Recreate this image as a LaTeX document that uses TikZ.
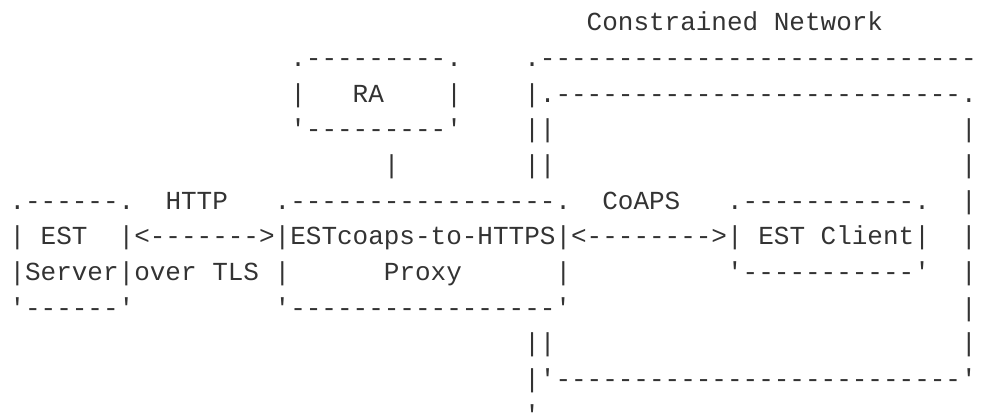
\documentclass[tikz,border=0pt]{standalone}
\usepackage{fontspec}
\setmonofont{Liberation Mono}
\usepackage{xcolor}
\usepackage{tikz}
\definecolor{asciigray}{HTML}{333333}

\begin{document}
\begin{tikzpicture}[x=11.7pt, y=-26.75pt,
		ascii/.style={anchor=base west, inner sep=0pt, outer sep=0pt, text=asciigray,
			font=\ttfamily\fontsize{19.5pt}{26pt}\selectfont}]
	\useasboundingbox (-0.609,-0.869) rectangle (62.276,10.793);

	\node[ascii] (net-label) at (37,0) {Constrained Network};

	\node[ascii] (ra-top) at (18,1) {.---------.};
	\node[ascii] (ra-left) at (18,2) {|};
	\node[ascii] (ra) at (22,2) {RA};
	\node[ascii] (ra-right) at (28,2) {|};
	\node[ascii] (ra-bot) at (18,3) {'---------'};
	\node[ascii] (ra-link) at (24,4) {|};

	\node[ascii] (net-top) at (33,1) {.----------------------------};
	\node[ascii] (net-l2) at (33,2) {|};
	\node[ascii] (cn-top) at (34,2) {.--------------------------.};
	\node[ascii] (net-l3) at (33,3) {||};
	\node[ascii] (cn-r3) at (61,3) {|};
	\node[ascii] (net-l4) at (33,4) {||};
	\node[ascii] (cn-r4) at (61,4) {|};

	\node[ascii] (est-top) at (0,5) {.------.};
	\node[ascii] (est-l6) at (0,6) {|};
	\node[ascii] (est) at (2,6) {EST};
	\node[ascii] (est-r6) at (7,6) {|};
	\node[ascii] (est-l7) at (0,7) {|};
	\node[ascii] (server) at (1,7) {Server};
	\node[ascii] (est-r7) at (7,7) {|};
	\node[ascii] (est-bot) at (0,8) {'------'};

	\node[ascii] (http) at (10,5) {HTTP};
	\node[ascii] (http-arrow) at (8,6) {<------->};
	\node[ascii] (tls) at (8,7) {over TLS};

	\node[ascii] (proxy-top) at (17,5) {.-----------------.};
	\node[ascii] (proxy-l6) at (17,6) {|};
	\node[ascii] (proxy) at (18,6) {ESTcoaps-to-HTTPS};
	\node[ascii] (proxy-r6) at (35,6) {|};
	\node[ascii] (proxy-l7) at (17,7) {|};
	\node[ascii] (proxy-name) at (24,7) {Proxy};
	\node[ascii] (proxy-r7) at (35,7) {|};
	\node[ascii] (proxy-bot) at (17,8) {'-----------------'};

	\node[ascii] (coaps) at (38,5) {CoAPS};
	\node[ascii] (coaps-arrow) at (36,6) {<-------->};

	\node[ascii] (client-top) at (46,5) {.-----------.};
	\node[ascii] (client-l6) at (46,6) {|};
	\node[ascii] (client) at (48,6) {EST Client};
	\node[ascii] (client-r6) at (58,6) {|};
	\node[ascii] (client-bot) at (46,7) {'-----------'};

	\node[ascii] (cn-r5) at (61,5) {|};
	\node[ascii] (cn-r6) at (61,6) {|};
	\node[ascii] (cn-r7) at (61,7) {|};
	\node[ascii] (cn-r8) at (61,8) {|};
	\node[ascii] (net-l9) at (33,9) {||};
	\node[ascii] (cn-r9) at (61,9) {|};
	\node[ascii] (net-l10) at (33,10) {|};
	\node[ascii] (cn-bot) at (34,10) {'--------------------------'};
	\node[ascii] (net-bot) at (33,11) {'};
\end{tikzpicture}
\end{document}
